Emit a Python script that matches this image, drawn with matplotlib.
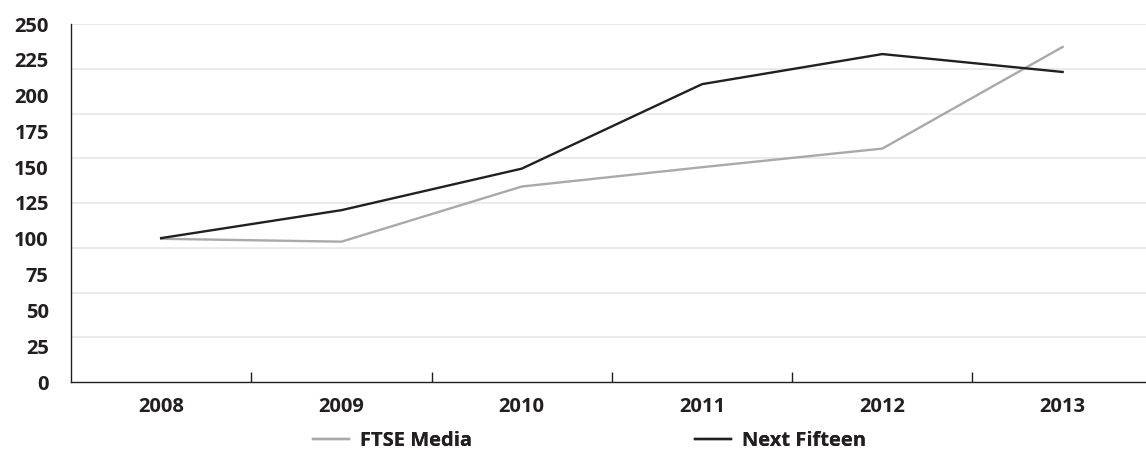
import numpy as np
import matplotlib
matplotlib.use("Agg")
import matplotlib.pyplot as plt
from matplotlib.lines import Line2D

years = ["2008", "2009", "2010", "2011", "2012", "2013"]
ftse_media = [100, 98, 136.5, 150, 163, 234]
next_fifteen = [100.5, 120, 149, 208, 229, 216.5]
y_ticks = [0, 25, 50, 75, 100, 125, 150, 175, 200, 225, 250]

fam = 'Open Sans'
weight = 'bold'

plt.rcParams['font.family'] = [fam, 'DejaVu Sans']
FS = 14.5
W, H = 1146, 453
fig = plt.figure(figsize=(W / 100, H / 100), dpi=100)
left = 71 / W
bottom = (H - 382) / H
top = 1 - 24 / H
ax = fig.add_axes([left, bottom, 1 - left, top - bottom])

x = np.arange(len(years))
c_ftse = "#a7a9ac"
c_next = "#231f20"

# grid lines (8 equal bands as in the reference)
for g in np.linspace(0, 250, 9)[1:]:
    ax.axhline(g, color="#e8e8e8", lw=1.2, zorder=0)

ax.plot(x, ftse_media, color=c_ftse, lw=1.7, zorder=3)
ax.plot(x, next_fifteen, color=c_next, lw=1.7, zorder=4)

ax.set_ylim(0, 250)
ax.set_xlim(-0.5, -0.5 + (W - 71) / 180.3)

ax.set_yticks(y_ticks)
ax.set_yticklabels([str(v) for v in y_ticks], fontsize=FS, fontweight=weight, color="#231f20")
ax.tick_params(axis='y', length=0, pad=16)

ax.set_xticks(x)
ax.set_xticklabels(years, fontsize=FS, fontweight=weight, color="#231f20")
ax.set_xticks(np.arange(len(years) - 1) + 0.5, minor=True)
ax.tick_params(axis='x', which='major', length=0, pad=11)
ax.tick_params(axis='x', which='minor', direction='in', length=7, width=1.0, color=c_next)

for s in ['top', 'right']:
    ax.spines[s].set_visible(False)
ax.spines['left'].set_color(c_next)
ax.spines['bottom'].set_color(c_next)
ax.spines['left'].set_linewidth(1.0)
ax.spines['bottom'].set_linewidth(1.0)

h1 = Line2D([], [], color=c_ftse, lw=1.7)
h2 = Line2D([], [], color=c_next, lw=1.7)
ly = 1 - 441 / H
for h, lab, xpos in [(h1, "FTSE Media", 313), (h2, "Next Fifteen", 695)]:
    leg = fig.legend(handles=[h], labels=[lab], loc='center left',
                     bbox_to_anchor=(xpos / W, ly), frameon=False,
                     borderpad=0, borderaxespad=0, handlelength=1.8,
                     handletextpad=0.55,
                     prop={'family': [fam, 'DejaVu Sans'], 'size': FS, 'weight': weight})
    for t in leg.get_texts():
        t.set_color("#231f20")
    fig.add_artist(leg)

fig.savefig("out.png", dpi=100)
